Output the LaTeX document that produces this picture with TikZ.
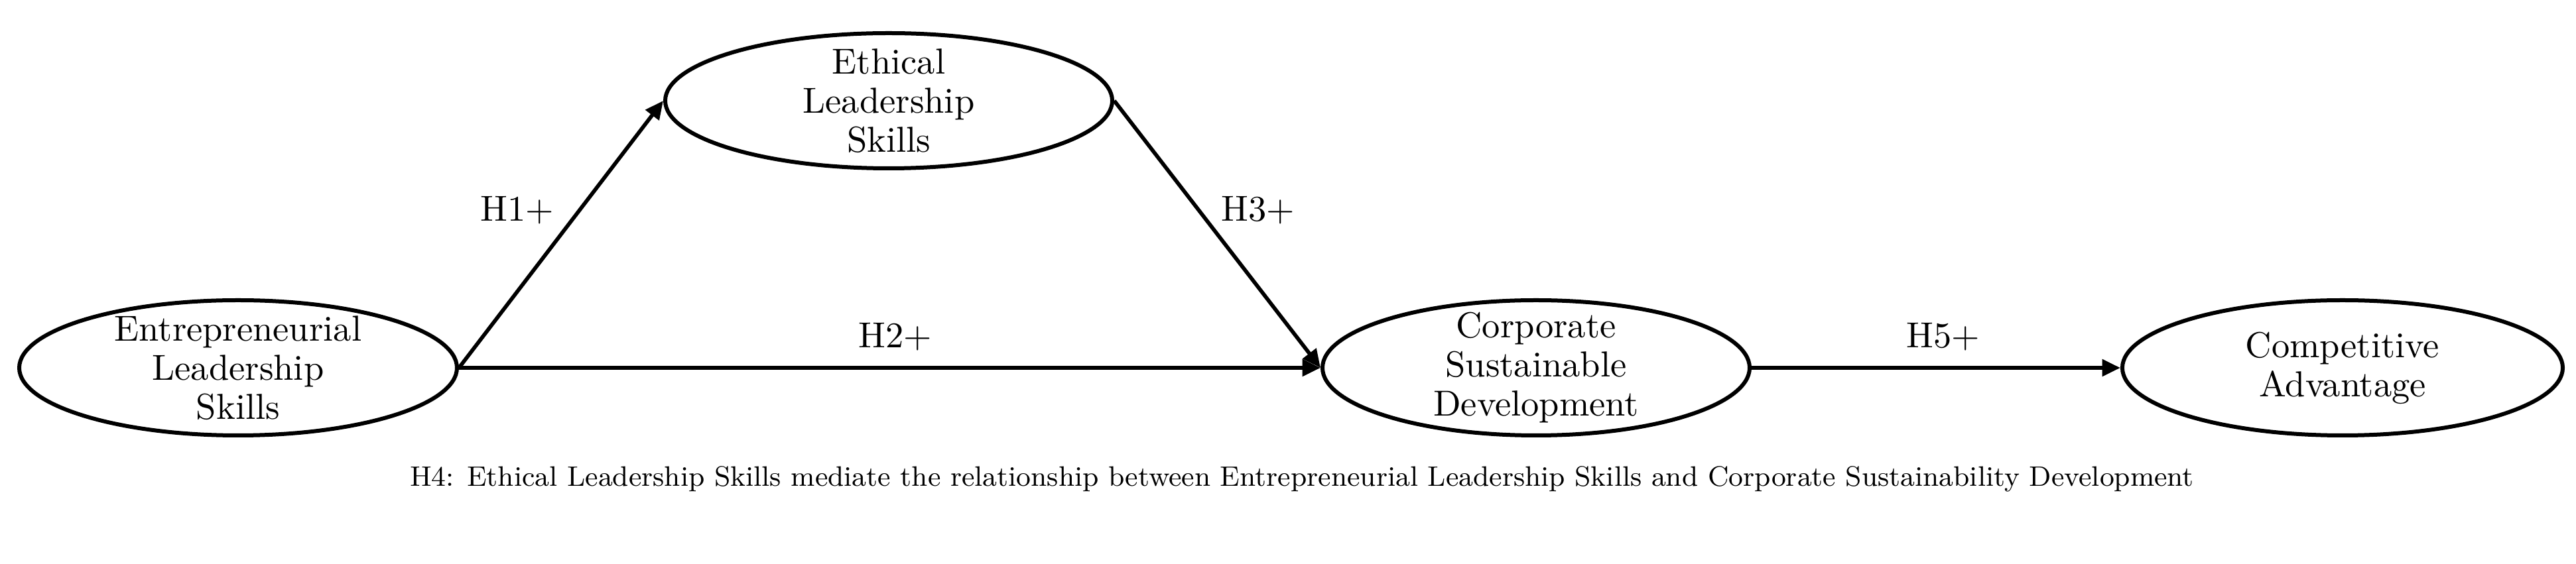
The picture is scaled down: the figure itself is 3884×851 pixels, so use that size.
\documentclass[tikz,border=0pt]{standalone}
\usetikzlibrary{shapes.geometric,arrows.meta}
\begin{document}
\begin{tikzpicture}[x=0.2pt,y=-0.2pt,
  construct/.style={draw, ellipse, line width=1.2pt, inner xsep=0pt, inner ysep=-3pt,
    minimum height=40.8pt, align=center, font=\fontsize{10.9}{11.8}\selectfont},
  link/.style={line width=1.15pt, -{Triangle[length=5.5pt,width=5pt]}},
  hyp/.style={font=\fontsize{10.9}{11.8}\selectfont, inner sep=0pt},
  captext/.style={font=\fontsize{8.5}{10}\selectfont, inner sep=0pt}]
\useasboundingbox (0,0) rectangle (3884,851);
\node[construct, minimum width=132pt] (els) at (359,555) {Entrepreneurial\\Leadership\\Skills};
\node[construct, minimum width=134.8pt] (eth) at (1340,152) {Ethical\\Leadership\\Skills};
\node[construct, minimum width=128.8pt] (csd) at (2316,555) {Corporate\\Sustainable\\Development};
\node[construct, minimum width=132.8pt] (ca) at (3532,555) {Competitive\\Advantage};
\draw[link] (els.east) -- (eth.west);
\draw[link] (eth.east) -- (csd.west);
\draw[link] (els.east) -- (csd.west);
\draw[link] (csd.east) -- (ca.west);
\node[hyp] (h1) at (780,317) {H1+};
\node[hyp] (h3) at (1897,317) {H3+};
\node[hyp] (h2) at (1350,508) {H2+};
\node[hyp] (h5) at (2930,508) {H5+};
\node[captext] (cap) at (1963,723) {H4: Ethical Leadership Skills mediate the relationship between Entrepreneurial Leadership Skills and Corporate Sustainability Development};
\end{tikzpicture}
\end{document}
